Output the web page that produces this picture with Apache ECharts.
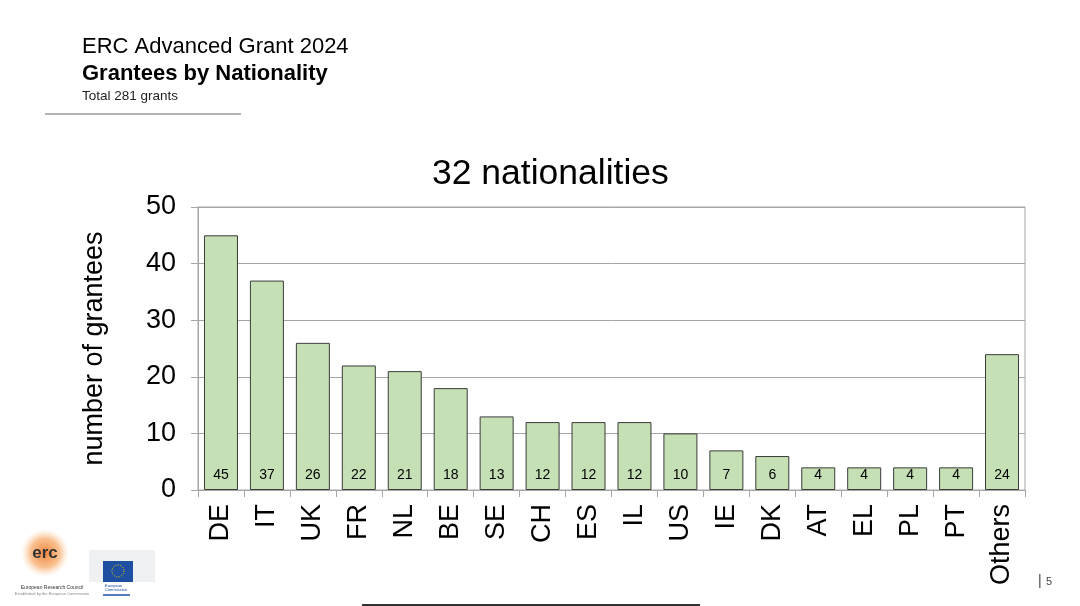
<!DOCTYPE html>
<html>
<head>
<meta charset="utf-8">
<script src="https://cdn.jsdelivr.net/npm/echarts@6/dist/echarts.min.js"></script>
<style>
html,body{margin:0;padding:0;background:#fff;}
#chart{width:1080px;height:606px;}
</style>
</head>
<body>
<div id="chart"></div>
<script>
const categories = ['DE','IT','UK','FR','NL','BE','SE','CH','ES','IL','US','IE','DK','AT','EL','PL','PT','Others'];
const grantees = [45,37,26,22,21,18,13,12,12,12,10,7,6,4,4,4,4,24];
const yTicks = {min:0, max:50, interval:10};
const chartTitle = '32 nationalities';
const yName = 'number of grantees';

const FONT = '"Liberation Sans", Arial, sans-serif';
const chart = echarts.init(document.getElementById('chart'));
chart.setOption({
  backgroundColor:'#fff',
  animation:false,
  title:{
    text:chartTitle, left:427, top:151,
    textStyle:{fontFamily:FONT, fontSize:35.5, fontWeight:'normal', color:'#000'}
  },
  grid:{left:198, right:55, top:207, bottom:116, show:true, borderColor:'#a6a6a6', borderWidth:1},
  xAxis:{
    type:'category', data:categories,
    axisLine:{show:true, lineStyle:{color:'#a6a6a6'}},
    axisTick:{show:true, length:7, lineStyle:{color:'#a6a6a6'}},
    axisLabel:{rotate:90, margin:14, fontFamily:FONT, fontSize:27, color:'#000'}
  },
  yAxis:{
    type:'value', min:yTicks.min, max:yTicks.max, interval:yTicks.interval,
    name:yName, nameLocation:'middle', nameGap:90, nameRotate:90,
    nameTextStyle:{fontFamily:FONT, fontSize:27, color:'#000'},
    axisLine:{show:true, lineStyle:{color:'#a6a6a6'}},
    axisTick:{show:true, length:7, lineStyle:{color:'#a6a6a6'}},
    splitLine:{show:true, lineStyle:{color:'#a6a6a6'}},
    axisLabel:{margin:22, fontFamily:FONT, fontSize:27, color:'#000'}
  },
  series:[{
    type:'bar', data:grantees, barCategoryGap:'26%',
    itemStyle:{color:'#c5e0b4', borderColor:'#3b3b3b', borderWidth:1},
    label:{show:true, position:'insideBottom', distance:8, fontFamily:FONT, fontSize:14, color:'#000'}
  }],
  graphic:[
    {type:'text', left:82, top:36, style:{text:'ERC Advanced Grant 2024', font:'22px '+FONT, fill:'#000'}},
    {type:'text', left:82, top:63, style:{text:'Grantees by Nationality', font:'bold 22px '+FONT, fill:'#000'}},
    {type:'text', left:82, top:89, style:{text:'Total 281 grants', font:'13.5px '+FONT, fill:'#222'}},
    {type:'line', shape:{x1:45, y1:114, x2:241, y2:114}, style:{stroke:'#666', lineWidth:1}},
    {type:'line', shape:{x1:362, y1:605, x2:700, y2:605}, style:{stroke:'#333', lineWidth:2}},
    {type:'text', left:1038, top:574, style:{text:'|', font:'14px '+FONT, fill:'#444'}},
    {type:'text', left:1046, top:576, style:{text:'5', font:'11px '+FONT, fill:'#444'}},
    {type:'circle', shape:{cx:45, cy:553, r:24}, style:{fill:{type:'radial', x:0.5, y:0.5, r:0.5, colorStops:[{offset:0,color:'rgba(240,120,40,0.9)'},{offset:0.6,color:'rgba(245,150,70,0.6)'},{offset:1,color:'rgba(250,200,150,0)'}]}}},
    {type:'text', x:45, y:553, style:{text:'erc', font:'bold 17px '+FONT, fill:'#333', align:'center', verticalAlign:'middle'}},
    {type:'text', x:52, y:585, style:{text:'European Research Council', font:'5px '+FONT, fill:'#333', align:'center'}},
    {type:'text', x:52, y:592, style:{text:'Established by the European Commission', font:'4px '+FONT, fill:'#888', align:'center'}},
    {type:'rect', shape:{x:89, y:550, width:66, height:32}, style:{fill:'#eef0f2'}},
    {type:'rect', shape:{x:103, y:561, width:30, height:21}, style:{fill:'#1f4fa0'}},
    {type:'circle', shape:{cx:118, cy:571, r:6}, style:{fill:'none', stroke:'#ffdd00', lineWidth:1, lineDash:[1,1.5]}},
    {type:'text', left:105, top:584, style:{text:'European\nCommission', font:'4px '+FONT, fill:'#1f4fa0'}},
    {type:'line', shape:{x1:103, y1:595, x2:130, y2:595}, style:{stroke:'#1f4fa0', lineWidth:1.5}}
  ]
});
</script>
</body>
</html>
